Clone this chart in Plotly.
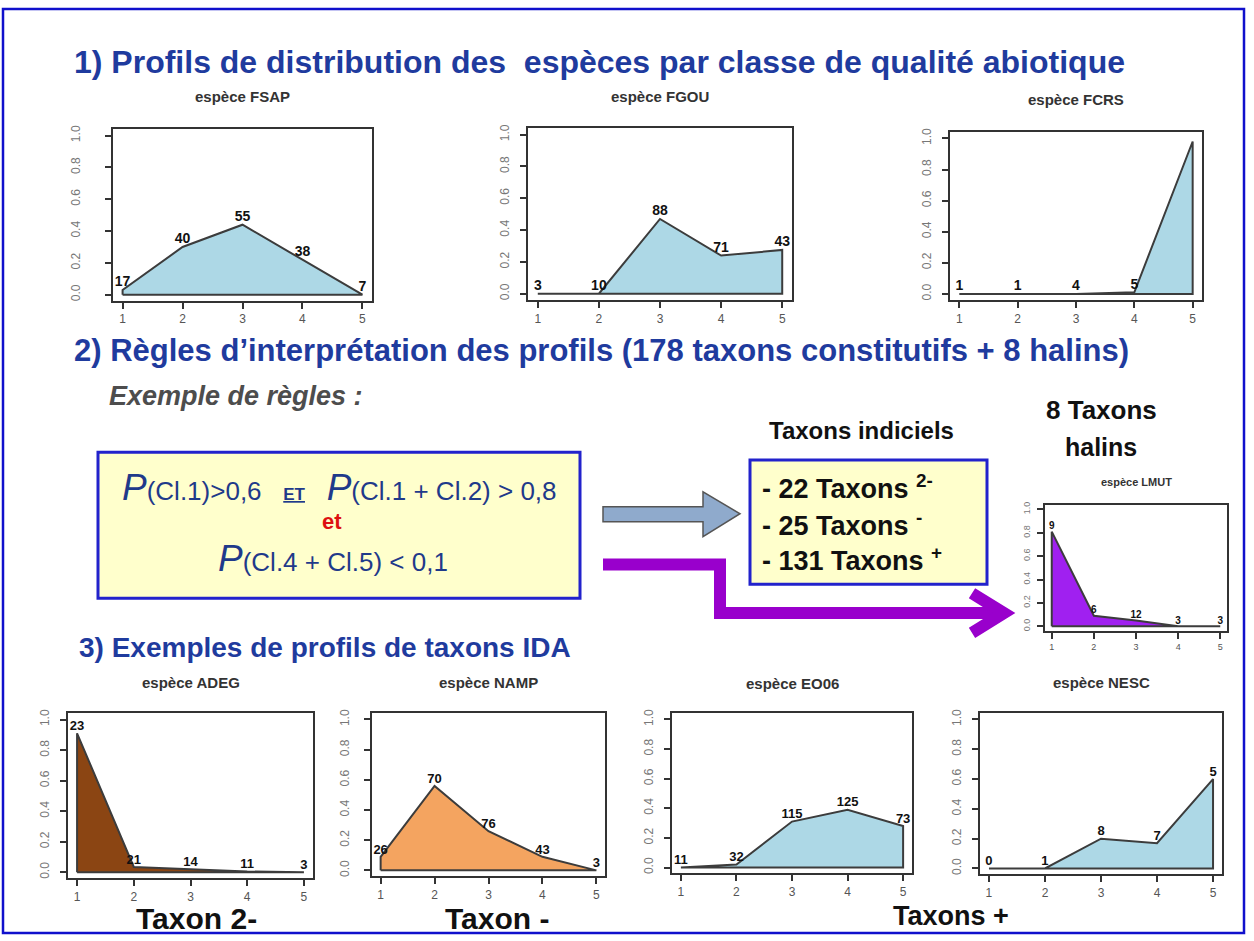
import plotly.graph_objects as go

W, H = 1254, 941

classes = [1, 2, 3, 4, 5]
ytick_vals = [0.0, 0.2, 0.4, 0.6, 0.8, 1.0]
ytick_text = ["0.0", "0.2", "0.4", "0.6", "0.8", "1.0"]

# probabilities per abiotic quality class and sample counts (labels)
fsap_p = [0.03, 0.30, 0.44, 0.22, 0.0]
fsap_n = [17, 40, 55, 38, 7]
fgou_p = [0.0, 0.0, 0.47, 0.24, 0.275]
fgou_n = [3, 10, 88, 71, 43]
fcrs_p = [0.0, 0.0, 0.0, 0.01, 0.98]
fcrs_n = [1, 1, 4, 5, ""]
lmut_p = [0.81, 0.09, 0.05, 0.0, 0.0]
lmut_n = [9, 6, 12, 3, 3]
adeg_p = [0.91, 0.035, 0.02, 0.005, 0.0]
adeg_n = [23, 21, 14, 11, 3]
namp_p = [0.09, 0.56, 0.26, 0.09, 0.0]
namp_n = [26, 70, 76, 43, 3]
eo06_p = [0.0, 0.02, 0.31, 0.39, 0.28]
eo06_n = [11, 32, 115, 125, 73]
nesc_p = [0.0, 0.0, 0.20, 0.17, 0.60]
nesc_n = [0, 1, 8, 7, 5]

# panel: title, probs, counts, fill colour, frame (left, top, right, bottom) px,
# title y px, title size, label size, tick size, tick label standoff
panels = [
    ("espèce FSAP", fsap_p, fsap_n, "#ADD8E6", (113, 125, 372, 298), 92, 15, 14, 12, 20),
    ("espèce FGOU", fgou_p, fgou_n, "#ADD8E6", (528, 124, 792, 297), 92, 15, 14, 12, 6),
    ("espèce FCRS", fcrs_p, fcrs_n, "#ADD8E6", (950, 128, 1202, 297), 95, 15, 14, 12, 6),
    ("espèce LMUT", lmut_p, lmut_n, "#A020F0", (1045, 503, 1227, 630), 480, 11, 10, 9, 3),
    ("espèce ADEG", adeg_p, adeg_n, "#8B4513", (68, 713, 313, 879), 682, 15, 13, 12, 6),
    ("espèce NAMP", namp_p, namp_n, "#F4A460", (372, 713, 605, 877), 682, 15, 13, 12, 10),
    ("espèce EO06", eo06_p, eo06_n, "#ADD8E6", (672, 713, 912, 874), 683, 15, 13, 12, 6),
    ("espèce NESC", nesc_p, nesc_n, "#ADD8E6", (980, 713, 1222, 875), 682, 15, 13, 12, 6),
]

fig = go.Figure()
layout = dict(
    width=W, height=H, margin=dict(l=0, r=0, t=0, b=0),
    paper_bgcolor="white", plot_bgcolor="white", showlegend=False,
    font=dict(family="Liberation Sans, Arial, sans-serif"),
)

annotations = []
shapes = []

# full-page overlay axis in pixel units (for boxes, arrows, texts)
fig.add_trace(go.Scatter(x=[0], y=[0], xaxis="x", yaxis="y", mode="markers",
                         marker=dict(size=1, opacity=0), hoverinfo="skip"))
layout["xaxis"] = dict(domain=[0, 1], range=[0, W], visible=False, fixedrange=True)
layout["yaxis"] = dict(domain=[0, 1], range=[H, 0], visible=False, fixedrange=True)

for k, (title, p, n, col, (l, t, r, b), ty, tsize, lsize, ksize, stand) in enumerate(panels):
    i = k + 2
    xa, ya = f"x{i}", f"y{i}"
    px = [classes[0]] + classes + [classes[-1], classes[0]]
    py = [0] + p + [0, 0]
    fig.add_trace(go.Scatter(x=px, y=py, xaxis=xa, yaxis=ya, mode="lines", fill="toself",
                             fillcolor=col, line=dict(color="#3c3c3c", width=2),
                             hoverinfo="skip"))
    fig.add_trace(go.Scatter(x=classes, y=p, xaxis=xa, yaxis=ya, mode="text",
                             text=[f"<b>{v}</b>" for v in n], textposition="top center",
                             textfont=dict(size=lsize, color="#111111"), hoverinfo="skip",
                             cliponaxis=False))
    axcommon = dict(showline=True, mirror=True, linecolor="#333333", linewidth=2,
                    ticks="outside", ticklen=6, tickwidth=2, tickcolor="#333333",
                    showgrid=False, zeroline=False, fixedrange=True)
    layout[f"xaxis{i}"] = dict(domain=[l / W, r / W], anchor=ya, range=[0.84, 5.16],
                               tickvals=classes, tickfont=dict(size=ksize, color="#555555"),
                               **axcommon)
    layout[f"yaxis{i}"] = dict(domain=[1 - b / H, 1 - t / H], anchor=xa, range=[-0.04, 1.04],
                               tickvals=ytick_vals, ticktext=ytick_text, tickangle=-90,
                               ticklabelstandoff=stand,
                               tickfont=dict(size=ksize, color="#777777"),
                               **axcommon)
    annotations.append(dict(x=(l + r) / 2, y=ty, xref="x", yref="y", text=f"<b>{title}</b>",
                            showarrow=False, xanchor="center", yanchor="middle",
                            font=dict(size=tsize, color="#333333")))

BLUE = "#1F3B9E"
NAVY = "#1F3A8A"

def txt(x, y, s, size, color, xanchor="left"):
    annotations.append(dict(x=x, y=y, xref="x", yref="y", text=s, showarrow=False,
                            xanchor=xanchor, yanchor="middle",
                            font=dict(size=size, color=color)))

txt(72, 57, "<b>1) Profils de distribution des&nbsp; espèces par classe de qualité abiotique</b>", 32, BLUE)
txt(72, 348, "<b>2) Règles d’interprétation des profils (178 taxons constitutifs + 8 halins)</b>", 31, BLUE)
txt(107, 394, "<b><i>Exemple de règles :</i></b>", 27, "#4D4D4D")
txt(77, 647, "<b>3) Exemples de profils de taxons IDA</b>", 28, BLUE)

# rule box
shapes.append(dict(type="rect", xref="x", yref="y", x0=98, y0=450, x1=580, y1=597,
                   fillcolor="#FFFFCC", line=dict(color="#2222CC", width=3), layer="below"))
txt(339, 486, "<i><span style='font-size:37px'>P</span></i>(Cl.1)&gt;0,6&nbsp;&nbsp; "
    "<b><u><span style='font-size:17px'>ET</span></u></b>&nbsp;&nbsp; "
    "<i><span style='font-size:37px'>P</span></i>(Cl.1 + Cl.2) &gt; 0,8", 26, NAVY, "center")
txt(332, 520, "<b>et</b>", 22, "#DD1111", "center")
txt(333, 557, "<i><span style='font-size:37px'>P</span></i>(Cl.4 + Cl.5) &lt; 0,1", 26, NAVY, "center")

# taxons indiciels box
txt(861, 428, "<b>Taxons indiciels</b>", 24, "#111111", "center")
shapes.append(dict(type="rect", xref="x", yref="y", x0=750, y0=458, x1=987, y1=583,
                   fillcolor="#FFFFCC", line=dict(color="#2222CC", width=3), layer="below"))
txt(760, 485, "<b>- 22 Taxons <sup>2-</sup></b>", 27, "#111111")
txt(760, 522, "<b>- 25 Taxons <sup>-</sup></b>", 27, "#111111")
txt(760, 558, "<b>- 131 Taxons <sup>+</sup></b>", 27, "#111111")

txt(1101, 408, "<b>8 Taxons</b>", 26, "#111111", "center")
txt(1101, 445, "<b>halins</b>", 25, "#111111", "center")

# bottom labels
txt(196, 919, "<b>Taxon 2-</b>", 30, "#111111", "center")
txt(497, 919, "<b>Taxon -</b>", 30, "#111111", "center")
txt(951, 917, "<b>Taxons +</b>", 27, "#111111", "center")

# arrows
shapes.append(dict(type="path", xref="x", yref="y",
                   path="M 603 505 L 703 505 L 703 490 L 740 512 L 703 535 L 703 520 L 603 520 Z",
                   fillcolor="#8FAACC", line=dict(color="#555555", width=1.5)))
shapes.append(dict(type="path", xref="x", yref="y",
                   path="M 603 563 L 720 563 L 720 612 L 1000 612",
                   line=dict(color="#9900CC", width=12)))
shapes.append(dict(type="path", xref="x", yref="y",
                   path="M 972 592 L 1004 612 L 972 632",
                   line=dict(color="#9900CC", width=12)))

# outer frame
shapes.append(dict(type="rect", xref="x", yref="y", x0=3, y0=4, x1=1244, y1=934,
                   line=dict(color="#1010CC", width=2.5)))

layout["annotations"] = annotations
layout["shapes"] = shapes
fig.update_layout(**layout)
fig.write_html("out.html", config={"displayModeBar": False},
               post_script="document.body.style.margin='0';")
